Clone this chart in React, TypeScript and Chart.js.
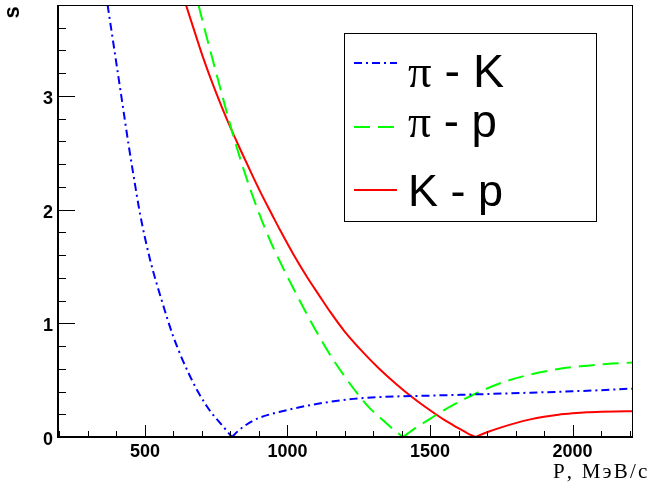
import React, { useEffect, useRef } from "react";
import { Chart, registerables } from "chart.js";

Chart.register(...registerables);

// ---- data ----
const piKMomentum = [369, 393, 417, 442, 460, 483, 518, 559, 600, 659, 717, 775, 805, 830, 857, 880, 904, 940, 974, 1030, 1090, 1150, 1210, 1266, 1325, 1400, 1500, 1700, 1852, 2000, 2100, 2212];
const piKSeparation = [3.8, 3.4, 3.0, 2.58, 2.3, 1.96, 1.56, 1.2, 0.88, 0.53, 0.27, 0.09, 0.0, 0.06, 0.11, 0.145, 0.172, 0.2, 0.222, 0.255, 0.285, 0.31, 0.33, 0.343, 0.352, 0.358, 0.364, 0.378, 0.39, 0.402, 0.412, 0.426];

const piPMomentum = [688, 710, 729, 764, 802, 834, 875, 914, 944, 974, 1020, 1068, 1110, 1150, 1200, 1243, 1290, 1325, 1365, 1405, 1450, 1500, 1580, 1676, 1760, 1852, 1950, 2027, 2120, 2212];
const piPSeparation = [3.8, 3.58, 3.4, 3.07, 2.72, 2.45, 2.14, 1.88, 1.7, 1.54, 1.31, 1.08, 0.89, 0.72, 0.535, 0.39, 0.25, 0.17, 0.08, 0.0, 0.08, 0.16, 0.28, 0.4, 0.485, 0.55, 0.598, 0.622, 0.642, 0.655];

const kPMomentum = [644, 680, 705, 740, 770, 802, 840, 881, 910, 945, 974, 1020, 1068, 1110, 1150, 1200, 1267, 1320, 1384, 1440, 1500, 1550, 1594, 1630, 1659, 1700, 1750, 1800, 1852, 1900, 1950, 2000, 2050, 2100, 2150, 2212];
const kPSeparation = [3.8, 3.52, 3.33, 3.09, 2.9, 2.71, 2.5, 2.28, 2.13, 1.96, 1.82, 1.61, 1.41, 1.25, 1.1, 0.93, 0.74, 0.605, 0.46, 0.345, 0.235, 0.15, 0.085, 0.035, 0.0, 0.042, 0.085, 0.122, 0.155, 0.178, 0.196, 0.208, 0.217, 0.222, 0.225, 0.227];

const xTickLabels = [500, 1000, 1500, 2000];
const yTickLabels = [0, 1, 2, 3];
const legendLabels = ["π - K", "π - p", "K - p"];
const xAxisTitle = "P, МэВ/c";
const yAxisTitle = "s";

const X_MIN = 195;
const X_MAX = 2212;
const Y_MIN = 0;
const Y_MAX = 3.8;

const SERIES = [
  { xs: piKMomentum, ys: piKSeparation, color: "#0000ff", dash: [8, 4, 2, 4] },
  { xs: piPMomentum, ys: piPSeparation, color: "#00ff00", dash: [16, 8] },
  { xs: kPMomentum, ys: kPSeparation, color: "#ff0000", dash: [] as number[] },
];

function branches(xs: number[], ys: number[]) {
  let mi = 0;
  for (let i = 1; i < ys.length; i++) if (ys[i] < ys[mi]) mi = i;
  const pts = xs.map((x, i) => ({ x, y: ys[i] }));
  return [pts.slice(0, mi + 1), pts.slice(mi)];
}

const SANS = '"Liberation Sans", Arial, Helvetica, sans-serif';
const SERIF = '"Liberation Serif", "Times New Roman", serif';

const decorPlugin = {
  id: "rootDecor",
  afterDraw(chart: any) {
    const ctx: CanvasRenderingContext2D = chart.ctx;
    const { left, right, top, bottom } = chart.chartArea;
    const xs = chart.scales.x;
    const ys = chart.scales.y;
    ctx.save();
    ctx.setLineDash([]);

    // frame
    ctx.strokeStyle = "#000";
    ctx.lineWidth = 1;
    ctx.strokeRect(left + 0.5, top + 0.5, right - left - 1, bottom - top);
    ctx.lineWidth = 2;
    ctx.beginPath();
    ctx.moveTo(left, top);
    ctx.lineTo(left, bottom);
    ctx.lineTo(right, bottom);
    ctx.stroke();

    // x ticks
    ctx.lineWidth = 1;
    ctx.beginPath();
    for (let v = 200; v <= 2200; v += 100) {
      const px = Math.round(xs.getPixelForValue(v)) + 0.5;
      const len = v % 500 === 0 ? 12 : 6;
      ctx.moveTo(px, bottom);
      ctx.lineTo(px, bottom - len);
    }
    // y ticks
    for (let i = 0; i <= 19; i++) {
      const v = i * 0.2;
      const py = Math.round(ys.getPixelForValue(v)) + 0.5;
      const len = i % 5 === 0 ? 17 : 8;
      ctx.moveTo(left, py);
      ctx.lineTo(left + len, py);
    }
    ctx.stroke();

    // tick labels
    ctx.fillStyle = "#000";
    ctx.font = `bold 18px ${SANS}`;
    ctx.textAlign = "center";
    ctx.textBaseline = "alphabetic";
    xTickLabels.forEach((v) => {
      ctx.fillText(String(v), xs.getPixelForValue(v), 457);
    });
    ctx.textAlign = "right";
    ctx.textBaseline = "middle";
    yTickLabels.forEach((v) => {
      ctx.fillText(String(v), left - 5, ys.getPixelForValue(v) + 3);
    });

    // x title
    ctx.font = `21px ${SERIF}`;
    ctx.textBaseline = "alphabetic";
    ctx.textAlign = "left";
    const baseW = ctx.measureText(xAxisTitle).width;
    const targetW = 92;
    const n = xAxisTitle.length;
    const sp = Math.max(0, (targetW - baseW) / (n - 1));
    let cx = 645 - Math.max(targetW, baseW);
    for (const ch of xAxisTitle) {
      ctx.fillText(ch, cx, 478);
      cx += ctx.measureText(ch).width + sp;
    }

    // y title
    ctx.save();
    ctx.translate(13.5, 12.5);
    ctx.rotate(-Math.PI / 2);
    ctx.font = `bold 22px ${SANS}`;
    ctx.textAlign = "center";
    ctx.textBaseline = "alphabetic";
    ctx.fillText(yAxisTitle, 0, 0.26 * 22);
    ctx.restore();

    // legend
    const bx = 344.5, by = 33.5, bw = 252, bh = 188;
    ctx.fillStyle = "#fff";
    ctx.fillRect(bx, by, bw, bh);
    ctx.strokeStyle = "#000";
    ctx.lineWidth = 1;
    ctx.strokeRect(bx, by, bw, bh);

    const lineY = [63, 127, 190];
    const baseY = [87, 137, 206];
    const widths = [96, 89, 95];
    legendLabels.forEach((lab, i) => {
      const s = SERIES[i];
      ctx.strokeStyle = s.color;
      ctx.lineWidth = 2;
      ctx.setLineDash(s.dash);
      ctx.beginPath();
      ctx.moveTo(354, lineY[i]);
      ctx.lineTo(397, lineY[i]);
      ctx.stroke();
      ctx.setLineDash([]);

      const hasPi = lab.startsWith("π");
      const head = hasPi ? "π" : "";
      const rest = hasPi ? lab.slice(1) : lab;
      const measure = (size: number) => {
        ctx.font = `${size}px ${SERIF}`;
        const w1 = head ? ctx.measureText(head).width : 0;
        ctx.font = `${size}px ${SANS}`;
        const w2 = ctx.measureText(rest).width;
        return w1 + w2;
      };
      const size = 40 * widths[i] / measure(40);
      ctx.fillStyle = "#000";
      ctx.textAlign = "left";
      ctx.textBaseline = "alphabetic";
      let tx = 408;
      if (head) {
        ctx.font = `${size}px ${SERIF}`;
        ctx.fillText(head, tx, baseY[i]);
        tx += ctx.measureText(head).width;
      }
      ctx.font = `${size}px ${SANS}`;
      ctx.fillText(rest, tx, baseY[i]);
    });

    ctx.restore();
  },
};

export default function App() {
  const ref = useRef<HTMLCanvasElement | null>(null);
  useEffect(() => {
    if (!ref.current) return;
    const datasets: any[] = [];
    SERIES.forEach((s) => {
      branches(s.xs, s.ys).forEach((pts) => {
        datasets.push({
          data: pts,
          borderColor: s.color,
          borderWidth: 2,
          borderDash: s.dash,
          pointRadius: 0,
          fill: false,
          cubicInterpolationMode: "monotone",
        });
      });
    });
    const chart = new Chart(ref.current, {
      type: "line",
      data: { datasets },
      options: {
        animation: false,
        responsive: false,
        devicePixelRatio: 1,
        layout: { padding: { left: 58, right: 14, top: 5, bottom: 49 } },
        scales: {
          x: { type: "linear", min: X_MIN, max: X_MAX, display: false },
          y: { type: "linear", min: Y_MIN, max: Y_MAX, display: false },
        },
        plugins: { legend: { display: false }, tooltip: { enabled: false } },
        events: [],
      },
      plugins: [decorPlugin],
    } as any);
    return () => chart.destroy();
  }, []);
  return (
    <div style={{ position: "fixed", left: 0, top: 0, width: 647, height: 486, background: "#fff" }}>
      <canvas ref={ref} width={647} height={486} style={{ display: "block", width: 647, height: 486 }} />
    </div>
  );
}
